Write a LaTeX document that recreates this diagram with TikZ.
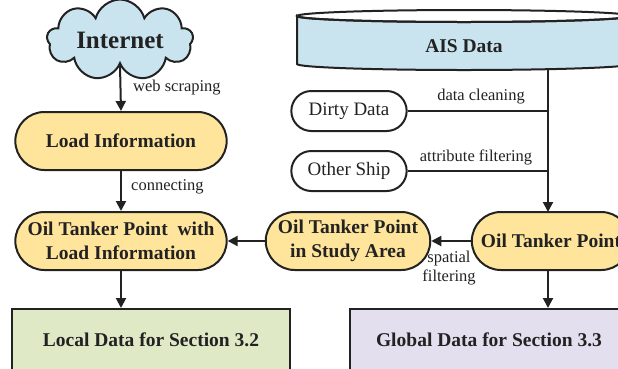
\documentclass[tikz,border=0pt]{standalone}
\usepackage{fontspec}
\setmainfont{Liberation Serif}
\usetikzlibrary{shapes.misc,shapes.symbols,arrows.meta}
\definecolor{tankeryellow}{HTML}{FFE59C}
\definecolor{skyblue}{HTML}{C9E4EE}
\definecolor{localgreen}{HTML}{E0E9C6}
\definecolor{globalviolet}{HTML}{E3DFEE}
\definecolor{inkgray}{HTML}{222222}
\tikzset{
  outline/.style={draw=inkgray, line width=2pt},
  pill/.style={outline, rounded rectangle, fill=tankeryellow, align=center,
    font=\fontsize{19.5}{24}\selectfont\bfseries, text=inkgray, minimum height=58},
  whitepill/.style={outline, rounded rectangle, fill=white, minimum width=122, minimum height=40,
    font=\fontsize{19}{22}\selectfont, text=inkgray},
  databox/.style={outline, rectangle, minimum width=278, minimum height=62,
    font=\fontsize{19.5}{22}\selectfont\bfseries, text=inkgray},
  flow/.style={draw=inkgray, line width=2pt, -{Triangle[length=10pt,width=10pt]}},
  plain/.style={draw=inkgray, line width=2pt},
  lbl/.style={font=\fontsize{16.5}{19}\selectfont, text=inkgray, inner sep=0pt, align=center}
}
\begin{document}
\begin{tikzpicture}[x=1pt,y=-1pt]
\useasboundingbox (0,0) rectangle (618,368);
\clip (0,0) rectangle (618,368);

% AIS database drawn as a cylinder
\filldraw[outline, fill=skyblue] (297,16) -- (297,64)
  arc[start angle=180, end angle=0, x radius=167, y radius=6] -- (631,16)
  arc[start angle=0, end angle=180, x radius=167, y radius=6] -- cycle;
\draw[outline] (464,16) ellipse[x radius=167, y radius=6];
\node[minimum width=334, minimum height=48, inner sep=0pt,
  font=\fontsize{19.5}{22}\selectfont\bfseries, text=inkgray] (ais) at (464,46) {AIS Data};
\coordinate (aisbottom) at (548,69);

% left column
\node[outline, cloud, cloud puffs=9, aspect=2.4, fill=skyblue, minimum width=146, minimum height=62,
  inner sep=0pt, font=\fontsize{25}{28}\selectfont\bfseries, text=inkgray] (internet) at (120,40) {Internet};
\node[pill, minimum width=218] (load) at (121,141) {Load Information};
\node[pill, minimum width=218] (withload) at (121,241) {Oil Tanker Point\ \ with\\Load Information};
\node[databox, fill=localgreen] (local) at (151,340) {Local Data for Section 3.2};

% right part
\node[whitepill] (dirty) at (349,111) {Dirty Data};
\node[whitepill] (other) at (349,171) {Other Ship};
\node[pill, minimum width=160] (study) at (348,241) {Oil Tanker Point\\in Study Area};
\node[pill, minimum width=165] (tanker) at (551,241) {Oil Tanker Point};
\node[databox, fill=globalviolet] (global) at (489,340) {Global Data for Section 3.3};

\coordinate (jdirty) at (548,111);
\coordinate (jother) at (548,171);
\coordinate (tankertop) at (548,212);

% connectors
\draw[flow] (internet.south) -- (load.north);
\draw[flow] (load.south) -- (withload.north);
\draw[flow] (withload.south) -- (local.north -| withload.south);
\draw[flow] (study.west) -- (withload.east);
\draw[flow] (tanker.west) -- (study.east);
\draw[flow] (aisbottom) -- (tankertop);
\draw[plain] (dirty.east) -- (jdirty);
\draw[plain] (other.east) -- (jother);
\draw[flow] (tankertop |- tanker.south) -- (tankertop |- global.north);

% connector labels
\node[lbl, anchor=west] (lweb) at (133,88) {web scraping};
\node[lbl, anchor=west] (lconn) at (131,187) {connecting};
\node[lbl] (lclean) at (481,97) {data cleaning};
\node[lbl] (lattr) at (476,157) {attribute filtering};
\node[lbl] (lspat) at (449,268) {spatial\\filtering};
\end{tikzpicture}
\end{document}
